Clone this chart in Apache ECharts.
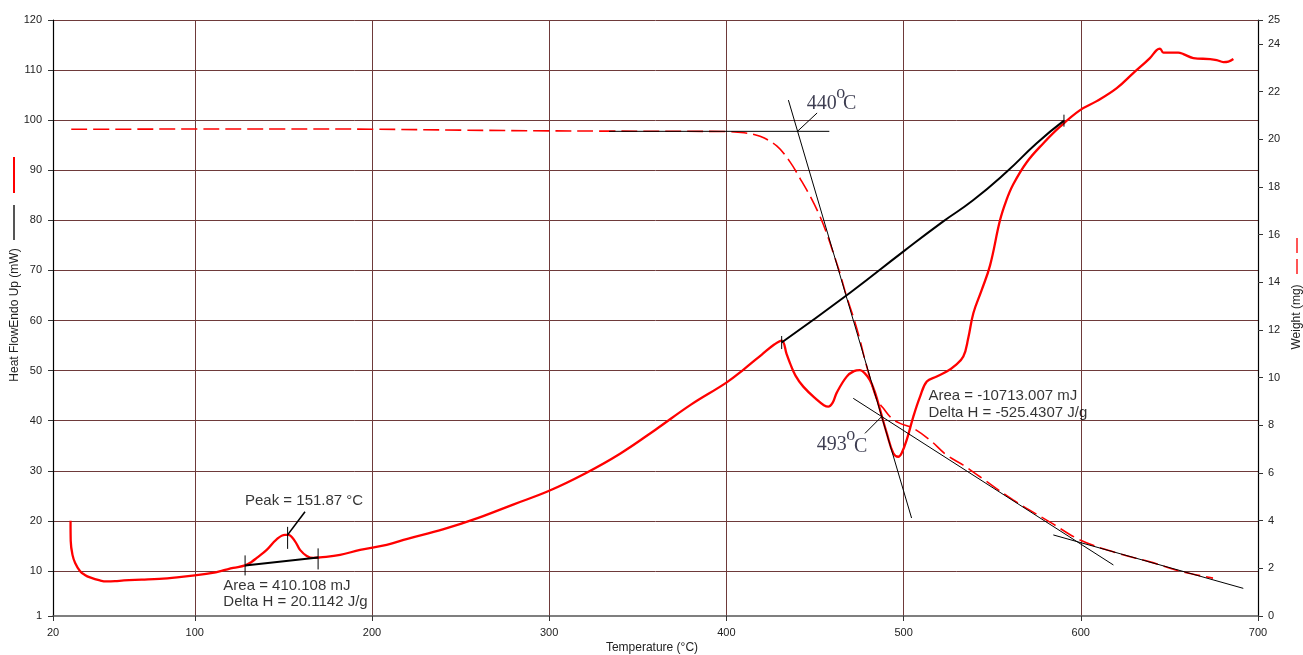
<!DOCTYPE html>
<html><head><meta charset="utf-8">
<script src="https://cdn.jsdelivr.net/npm/echarts@6/dist/echarts.min.js"></script>
<style>html,body{margin:0;padding:0;background:#fff}#c{width:1303px;height:655px}</style>
</head><body><div id="c"></div><script>
// ---- tick labels ----
const tempTicks = [20, 100, 200, 300, 400, 500, 600, 700];
const heatTicks = [1, 10, 20, 30, 40, 50, 60, 70, 80, 90, 100, 110, 120];
const weightTicks = [0, 2, 4, 6, 8, 10, 12, 14, 16, 18, 20, 22, 24, 25];

// ---- heat flow (mW) vs temperature (°C) ----
const heatFlow = [
 [29.9,20.0],[30.0,16.0],[31.0,13.2],[32.5,11.6],[35.2,10.0],[38,9.2],[40.9,8.7],[46.5,8.1],[50.3,7.9],
 [55,7.95],[60,8.1],[70,8.25],[80,8.4],[90,8.7],[100,9.1],[110,9.6],[116,10.1],[121.7,10.6],[128.4,11.1],
 [132,11.8],[135,12.6],[140.6,14.2],[146.2,16.3],[150.9,17.2],[152.8,17.2],[156.6,15.9],[159.4,14.2],
 [163.2,13.0],[166.9,12.6],[170.7,12.7],[182,13.2],[193.3,14.2],[208.3,15.2],[220,16.4],[240,18.3],
 [260,20.6],[280,23.3],[300,26.0],[320,29.4],[340,33.4],[360,38.2],[380,43.2],[400,47.6],[410,50.3],
 [420,53.2],[427,55.2],[431.2,56.0],[434,53.3],[435.9,51.5],[439,49],[443.4,46.8],[451.0,44.2],[455,43.1],
 [457.5,42.8],[460,43.6],[462.3,45.6],[467.9,48.8],[472,49.9],[475.4,50.1],[478,49.5],[481.0,48.1],
 [484,45.5],[486.7,42.2],[490.5,37.5],[494.2,33.5],[497.0,32.8],[499,33.6],[501.8,36.2],[505.5,40.8],
 [509.3,44.8],[513.1,47.8],[518.7,48.8],[524.3,49.8],[529,51],[533.7,52.8],[536.5,56.5],[539.4,61.5],
 [544,66],[548.8,71],[554.4,80],[558,84],[561.9,87.2],[569.5,91.6],[578.9,95.4],[588.3,98.7],[599.6,102],
 [609.0,103.8],[620.3,106.4],[629.6,109.4],[639.0,112.4],[642.8,114],[644.7,114.3],[646.6,113.5],
 [655.0,113.5],[657.9,113.2],[663.5,112.4],[673.0,112.2],[676.7,112],[680.5,111.6],[683.3,111.7],[686.1,112.2]
];

// ---- weight (mg) vs temperature (°C) ----
const weight = [
 [30.3,20.42],[60,20.42],[100,20.43],[150,20.43],[200,20.42],[250,20.38],[300,20.35],[330,20.34],
 [400,20.32],[410,20.27],[419,20.12],[428.4,19.72],[435.9,19.05],[441.6,18.35],[447.2,17.62],[452.9,16.75],
 [456.6,16.05],[460.4,15.21],[464.1,14.37],[467.9,13.39],[471.6,12.55],[475.4,11.58],[478.2,10.74],
 [484.8,9.09],[488.6,8.71],[493.3,8.29],[498,8.08],[505.5,7.87],[514.9,7.38],[524.3,6.75],[533.7,6.33],
 [543.1,5.84],[561.8,4.87],[582.6,3.94],[599.6,3.19],[620.5,2.64],[639,2.27],[657.7,1.85],[674.6,1.59]
];

// ---- annotation lines (heat-flow axis) ----
const peakBaseline = [[128.4,11.1],[169.6,12.7]];
const peakTicks = [
 [[128.4,13.1],[128.4,9.1]],
 [[169.6,14.5],[169.6,10.3]],
 [[152.4,18.8],[152.4,14.4]]
];
const peakLeader = [[152.4,17.2],[162.2,21.8]];
const bigBaseline = [[431.2,55.6],[470,65.6],[499.8,73.75],[522.2,79.74],[539.2,84.0],[558.2,89.7],[575.1,95.4],[590.5,99.9]];
const bigTicks = [
 [[431.2,56.9],[431.2,54.3]],
 [[590.5,101.1],[590.5,98.7]]
];
// ---- annotation lines (weight axis) ----
const onsetFlat = [[333.8,20.33],[458.1,20.33]];
const onsetSteep = [[435.0,21.64],[504.5,4.11]];
const leader440 = [[440.1,20.33],[451.2,21.1]];
const tailTangentA = [[471.6,9.13],[618.4,2.14]];
const leader493 = [[487.7,8.37],[478.2,7.66]];
const tailTangentB = [[584.5,3.40],[691.7,1.16]];

// ---- text annotations (heat-flow axis) ----
const sansLabels = [
 {name:'Peak = 151.87 °C', value:[128.35,23.9]},
 {name:'Area = 410.108 mJ', value:[116.1,6.93]},
 {name:'Delta H = 20.1142 J/g', value:[116.1,3.74]},
 {name:'Area = -10713.007 mJ', value:[514.0,45.05]},
 {name:'Delta H = -525.4307 J/g', value:[514.0,41.5]}
];
const serifLabels = [
 {name:'440', value:[445.3,103.37]},
 {name:'C', value:[465.8,103.2]},
 {name:'493', value:[451.0,35.17]},
 {name:'C', value:[472.0,34.77]}
];
const degreeMarks = [
 {name:'o', value:[462.0,105.3]},
 {name:'o', value:[467.7,37.1]}
];

const SANS = '"Liberation Sans", Arial, sans-serif';
const SERIF = '"Liberation Serif", "Times New Roman", serif';
const GRID = '#6e3a3a';

function lineSeries(data, yIdx, width, smooth) {
  return {type:'line', data:data, yAxisIndex:yIdx, showSymbol:false, symbol:'none', silent:true,
    animation:false, z:5, smooth:smooth||false, lineStyle:{color:'#000', width:width}};
}

const series = [
  {type:'line', name:'Weight', data:weight, yAxisIndex:1, showSymbol:false, symbol:'none', smooth:0.35,
   animation:false, z:2, lineStyle:{color:'#ff0000', width:1.6, type:[16,6]}},
  {type:'line', name:'Heat Flow', data:heatFlow, yAxisIndex:0, showSymbol:false, symbol:'none', smooth:0.4,
   animation:false, z:3, lineStyle:{color:'#ff0000', width:2.3}},
  lineSeries(peakBaseline,0,2),
  lineSeries(peakLeader,0,1.6),
  lineSeries(bigBaseline,0,2,0.5),
  lineSeries(onsetFlat,1,1),
  lineSeries(onsetSteep,1,1),
  lineSeries(leader440,1,1),
  lineSeries(tailTangentA,1,1),
  lineSeries(leader493,1,1),
  lineSeries(tailTangentB,1,1)
];
peakTicks.forEach(t => series.push(lineSeries(t,0,1)));
bigTicks.forEach(t => series.push(lineSeries(t,0,1)));
series.push({type:'scatter', data:sansLabels, yAxisIndex:0, symbolSize:0, silent:true, animation:false, z:6,
  label:{show:true, position:'right', distance:0, formatter:p=>p.name, fontFamily:SANS, fontSize:15, color:'#000'}});
series.push({type:'scatter', data:serifLabels, yAxisIndex:0, symbolSize:0, silent:true, animation:false, z:6,
  label:{show:true, position:'right', distance:0, formatter:p=>p.name, fontFamily:SERIF, fontSize:20, color:'#0d0d26'}});
series.push({type:'scatter', data:degreeMarks, yAxisIndex:0, symbolSize:0, silent:true, animation:false, z:6,
  label:{show:true, position:'right', distance:0, formatter:p=>p.name, fontFamily:SERIF, fontSize:18, color:'#0d0d26'}});

const axisLabelStyle = {fontFamily:SANS, fontSize:11, color:'#222'};

const option = {
  backgroundColor:'#fff',
  animation:false,
  grid:{left:53, right:45, top:20, bottom:39},
  xAxis:{type:'value', min:20, max:700,
    axisLine:{show:true, lineStyle:{color:'#555', width:1.5}},
    axisTick:{show:true, customValues:tempTicks, length:5, lineStyle:{color:'#333'}},
    axisLabel:Object.assign({customValues:tempTicks, margin:11}, axisLabelStyle),
    splitLine:{show:true, showMinLine:false, showMaxLine:false, lineStyle:{color:GRID, width:1}}},
  yAxis:[
    {type:'value', min:1, max:120, position:'left',
     axisLine:{show:true, lineStyle:{color:'#000', width:1.2}},
     axisTick:{show:true, customValues:heatTicks, length:5, lineStyle:{color:'#333'}},
     axisLabel:Object.assign({customValues:heatTicks, margin:11}, axisLabelStyle),
     splitLine:{show:true, showMinLine:false, showMaxLine:true, lineStyle:{color:GRID, width:1}}},
    {type:'value', min:0, max:25, position:'right',
     axisLine:{show:true, lineStyle:{color:'#000', width:1.2}},
     axisTick:{show:true, customValues:weightTicks, length:5, lineStyle:{color:'#333'}},
     axisLabel:Object.assign({customValues:weightTicks, margin:10}, axisLabelStyle),
     splitLine:{show:false}}
  ],
  graphic:[
    {type:'text', x:15, y:315, rotation:Math.PI/2, style:{text:'Heat FlowEndo Up (mW)', font:'12px '+SANS, fill:'#222', textAlign:'center', textVerticalAlign:'middle'}},
    {type:'rect', shape:{x:13, y:157, width:2, height:36}, style:{fill:'#ff0000'}},
    {type:'rect', shape:{x:13, y:205, width:2, height:35}, style:{fill:'#555'}},
    {type:'text', x:1297, y:317, rotation:Math.PI/2, style:{text:'Weight (mg)', font:'12px '+SANS, fill:'#222', textAlign:'center', textVerticalAlign:'middle'}},
    {type:'line', shape:{x1:1297, y1:238, x2:1297, y2:275}, style:{stroke:'#ff5555', lineWidth:2, lineDash:[15,6]}},
    {type:'text', x:652, y:648, style:{text:'Temperature (°C)', font:'12px '+SANS, fill:'#222', textAlign:'center', textVerticalAlign:'middle'}}
  ],
  series:series
};
const chart = echarts.init(document.getElementById('c'), null, {renderer:'canvas'});
chart.setOption(option);
</script></body></html>
